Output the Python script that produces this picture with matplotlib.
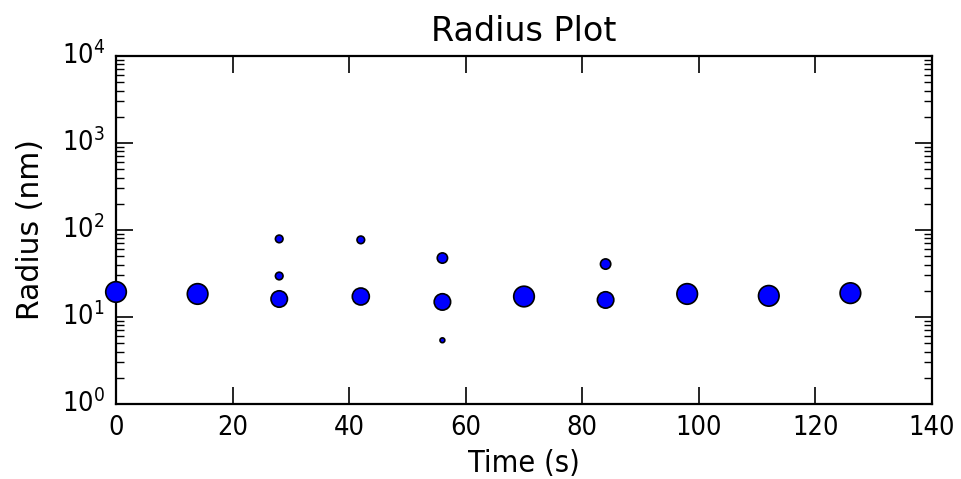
import matplotlib
matplotlib.use("Agg")
import matplotlib.pyplot as plt
import numpy as np

plt.style.use('classic')
plt.rcParams['font.family'] = ['DejaVu Sans']
plt.rcParams['font.stretch'] = 'condensed'

# Data
time_s = [0, 14, 28, 28, 28, 42, 42, 56, 56, 56, 70, 84, 84, 98, 112, 126]
radius_nm = [19.4, 18.4, 16.1, 29.6, 79, 17.2, 77, 14.9, 47.6, 5.4, 17.2, 15.7, 40.6, 18.4, 17.5, 18.8]
marker_area = [220, 220, 140, 30, 30, 150, 30, 140, 55, 12, 220, 140, 55, 220, 220, 220]

fig = plt.figure(figsize=(9.62, 4.79), dpi=100, facecolor='white')
ax = fig.add_axes([0.1206, 0.1566, 0.8482, 0.7265])
ax.set_facecolor('white')

ax.scatter(time_s, radius_nm, s=marker_area, c='#0000ff', edgecolors='black',
           linewidths=1.2, zorder=3, clip_on=False)

ax.set_yscale('log')
ax.set_xlim(0, 140)
ax.set_ylim(1, 1e4)
ax.set_xticks([0, 20, 40, 60, 80, 100, 120, 140])

ax.set_title('Radius Plot', fontsize=24, pad=11, fontstretch='normal')
ax.set_xlabel('Time (s)', fontsize=22, labelpad=6)
ax.set_ylabel('Radius (nm)', fontsize=21.5, labelpad=12, fontstretch='normal')

ax.tick_params(axis='both', which='major', labelsize=19.5, direction='in',
               length=12, width=1.2, top=True, right=True, pad=8)
ax.tick_params(axis='both', which='minor', direction='in', length=6,
               width=1.0, top=True, right=True)
for sp in ax.spines.values():
    sp.set_linewidth(1.6)

fig.savefig('out.png', dpi=100, facecolor='white')
